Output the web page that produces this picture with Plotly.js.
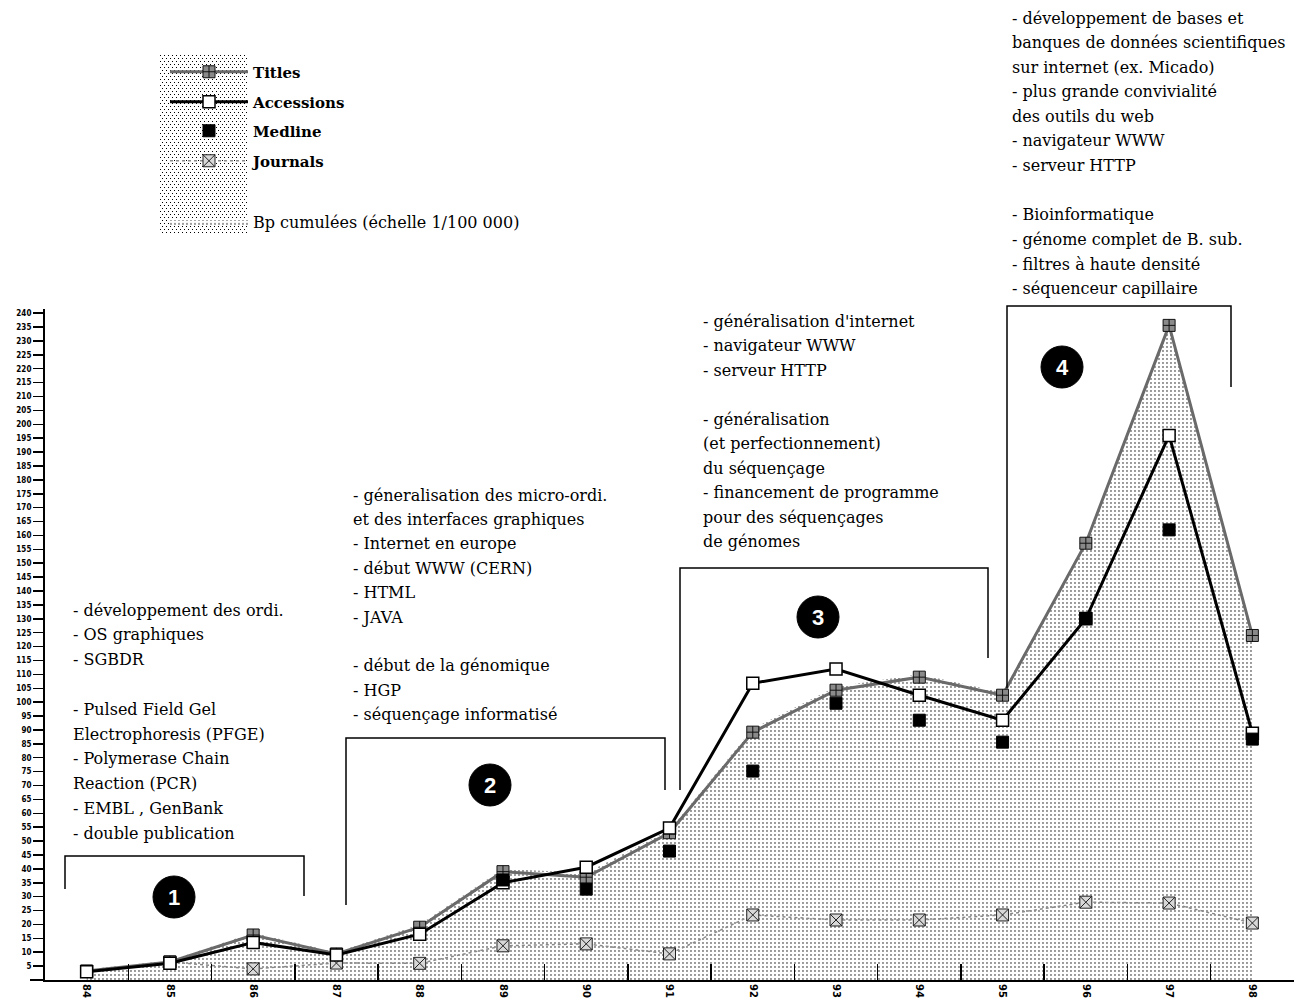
<!DOCTYPE html>
<html>
<head>
<meta charset="utf-8">
<script src="https://cdn.plot.ly/plotly-3.0.1.min.js"></script>
<style>html,body{margin:0;padding:0;background:#fff;}#chart{width:1298px;height:1008px;}</style>
</head>
<body>
<div id="chart"></div>
<script>
// ---- data ----
const years = ["84","85","86","87","88","89","90","91","92","93","94","95","96","97","98"];
const titles     = [3.2, 6.5, 16.2, 9.4, 19, 39, 37, 53, 89.2, 104.3, 109, 102.5, 157.2, 235.6, 124];
const accessions = [3, 6, 13.5, 9, 16.5, 35, 40.6, 54.7, 106.8, 111.9, 102.5, 93.5, 130, 196, 88.8];
const medline    = [null, null, null, null, null, 36, 32.7, 46.4, 75.2, 99.6, 93.5, 85.6, 130.2, 162, 86.7];
const journals   = [3.2, 6.5, 4, 6.1, 6, 12.3, 13, 9.4, 23.4, 21.6, 21.6, 23.4, 28, 27.7, 20.5];
const bpCumulees = [3.8, 7, 17, 10, 20, 40, 38.5, 54, 90.5, 105.5, 110, 103.5, 158, 236, 124.5];
const yTickVals = Array.from({length: 48}, (_, i) => (i + 1) * 5);

const seriesNames = ["Titles", "Accessions", "Medline", "Journals", "Bp cumulées (échelle 1/100 000)"];

const block1 = ["- développement des ordi.", "- OS graphiques", "- SGBDR", "", "- Pulsed Field Gel",
  "Electrophoresis (PFGE)", "- Polymerase Chain", "Reaction (PCR)", "- EMBL , GenBank", "- double publication"];
const block2 = ["- géneralisation des micro-ordi.", "et des interfaces graphiques", "- Internet en europe",
  "- début WWW (CERN)", "- HTML", "- JAVA", "", "- début de la génomique", "- HGP", "- séquençage informatisé"];
const block3 = ["- généralisation d'internet", "- navigateur WWW", "- serveur HTTP", "", "- généralisation",
  "(et perfectionnement)", "du séquençage", "- financement de programme", "pour des séquençages", "de génomes"];
const block4 = ["- développement de bases et", "banques de données scientifiques", "sur internet (ex. Micado)",
  "- plus grande convivialité", "des outils du web", "- navigateur WWW", "- serveur HTTP", "",
  "- Bioinformatique", "- génome complet de B. sub.", "- filtres à haute densité", "- séquenceur capillaire"];
const phaseLabels = ["1", "2", "3", "4"];

// ---- layout geometry ----
const W = 1298, H = 1008, L = 45, R = 4, T = 309, B = 28;
const PW = W - L - R, PH = H - T - B;
function px(x) { return (x - L) / PW; }
function py(y) { return (H - B - y) / PH; }

const serif = "DejaVu Serif";

const traces = [
  { x: years, y: bpCumulees, name: seriesNames[4], type: "scatter", mode: "lines",
    fill: "tozeroy", line: { width: 0, color: "rgba(0,0,0,0)" },
    fillcolor: "white",
    fillpattern: { shape: ".", bgcolor: "white", fgcolor: "black", size: 4, solidity: 0.1 },
    legend: "legend5", hoverinfo: "skip" },
  { x: years, y: journals, name: seriesNames[3], type: "scatter", mode: "lines+markers",
    line: { color: "#8a8a8a", width: 1.5, dash: "dot" },
    marker: { symbol: "square-x", size: 12, color: "#d8d8d8", line: { color: "#222", width: 1 } },
    legend: "legend4" },
  { x: years, y: titles, name: seriesNames[0], type: "scatter", mode: "lines+markers",
    line: { color: "#6a6a6a", width: 3 },
    marker: { symbol: "square-cross", size: 12, color: "#8a8a8a", line: { color: "#111", width: 1 } },
    legend: "legend" },
  { x: years, y: accessions, name: seriesNames[1], type: "scatter", mode: "lines+markers",
    line: { color: "black", width: 3 },
    marker: { symbol: "square", size: 12, color: "white", line: { color: "black", width: 1.5 } },
    legend: "legend2" },
  { x: years, y: medline, name: seriesNames[2], type: "scatter", mode: "markers",
    marker: { symbol: "square", size: 12, color: "black", line: { color: "black", width: 1 } },
    legend: "legend3" }
];

function legendAt(yPix, bold, size) {
  return { x: px(165), y: py(yPix), xanchor: "left", yanchor: "middle", bgcolor: "rgba(0,0,0,0)",
    borderwidth: 0, itemwidth: 78,
    font: { family: serif, size: size, color: "black", weight: bold ? "bold" : "normal" } };
}

const annotations = [];
function addBlock(lines, leftPix, firstCenterPix, step) {
  lines.forEach((t, i) => {
    if (!t) return;
    annotations.push({ xref: "paper", yref: "paper", x: px(leftPix), y: py(firstCenterPix + i * step),
      xanchor: "left", yanchor: "middle", text: t, showarrow: false,
      font: { family: serif, size: 16, color: "black" } });
  });
}
addBlock(block1, 71, 610, 24.8);
addBlock(block2, 351, 495, 24.4);
addBlock(block3, 701, 321, 24.5);
addBlock(block4, 1010, 18, 24.6);

const shapes = [];
function bracket(x1, x2, yTop, yL, yRt) {
  shapes.push({ type: "path", xref: "paper", yref: "paper",
    path: `M ${px(x1)},${py(yL)} L ${px(x1)},${py(yTop)} L ${px(x2)},${py(yTop)} L ${px(x2)},${py(yRt)}`,
    line: { color: "black", width: 1.5 } });
}
bracket(65, 304, 856, 889, 896);
bracket(346, 665, 738, 905, 790);
bracket(680, 988, 568, 790, 658);
bracket(1007, 1231, 306, 688, 387);

const circles = [[174, 897], [490, 785], [818, 617], [1062, 367]];
circles.forEach((c, i) => {
  shapes.push({ type: "circle", xref: "paper", yref: "paper", xsizemode: "pixel", ysizemode: "pixel",
    xanchor: px(c[0]), yanchor: py(c[1]), x0: -21, x1: 21, y0: -21, y1: 21,
    fillcolor: "black", line: { color: "black", width: 1 } });
  annotations.push({ xref: "paper", yref: "paper", x: px(c[0]), y: py(c[1]), text: "<b>" + phaseLabels[i] + "</b>",
    showarrow: false, xanchor: "center", yanchor: "middle",
    font: { family: "Liberation Sans", size: 22, color: "white" } });
});

// short extension of the x axis line left of the y axis
shapes.push({ type: "line", xref: "paper", yref: "paper", x0: px(30), x1: 0, y0: 0, y1: 0,
  line: { color: "black", width: 2 } });

// dotted legend background
const dotSvg = '<svg xmlns="http://www.w3.org/2000/svg" width="88" height="178">' +
  '<defs><pattern id="p" width="4" height="6" patternUnits="userSpaceOnUse">' +
  '<rect x="0" y="0" width="1" height="1" fill="black"/><rect x="2" y="3" width="1" height="1" fill="black"/>' +
  '</pattern></defs><rect width="88" height="178" fill="url(#p)"/></svg>';

const layout = {
  width: W, height: H,
  margin: { l: L, r: R, t: T, b: B, pad: 0 },
  paper_bgcolor: "white", plot_bgcolor: "white",
  showlegend: true,
  legend: legendAt(72, true, 15),
  legend2: legendAt(102, true, 15),
  legend3: legendAt(131, true, 15),
  legend4: legendAt(161, true, 15),
  legend5: legendAt(222, false, 16),
  xaxis: { type: "category", range: [-0.5, 14.5], showgrid: false, zeroline: false,
    showline: true, linecolor: "black", linewidth: 2,
    ticks: "inside", tickson: "boundaries", ticklen: 16, tickwidth: 1.5, tickcolor: "black",
    tickangle: 90, tickfont: { family: "DejaVu Sans", size: 10, color: "black", weight: "bold" } },
  yaxis: { range: [0, 241.5], showgrid: false, zeroline: false,
    showline: true, linecolor: "black", linewidth: 2,
    tickvals: yTickVals, ticks: "outside", ticklen: 10, tickwidth: 1.5, tickcolor: "black",
    tickfont: { family: "DejaVu Sans Condensed", size: 8, color: "black", weight: "bold" } },
  annotations: annotations,
  shapes: shapes,
  images: [{ source: "data:image/svg+xml;utf8," + encodeURIComponent(dotSvg),
    xref: "paper", yref: "paper", x: px(160), y: py(55), sizex: 88 / PW, sizey: 178 / PH,
    xanchor: "left", yanchor: "top", sizing: "stretch", layer: "below" }]
};

Plotly.newPlot("chart", traces, layout, { displayModeBar: false, staticPlot: true });
</script>
</body>
</html>
